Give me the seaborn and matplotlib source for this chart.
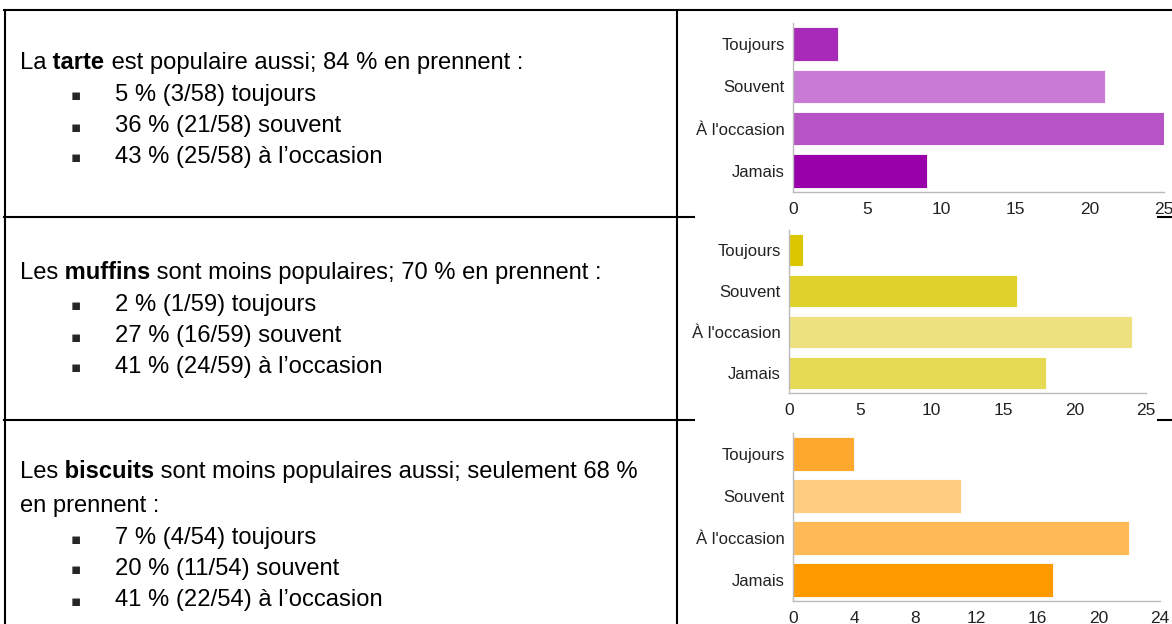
import matplotlib
matplotlib.use('Agg')
import matplotlib.pyplot as plt
from matplotlib import font_manager as fm
import seaborn as sns
import pandas as pd

sns.set_theme(style='white')
plt.rcParams['font.family'] = ['Liberation Sans', 'DejaVu Sans']

# Data
categories = ['Toujours', 'Souvent', "À l'occasion", 'Jamais']
tarte_counts = [3, 21, 25, 9]
muffins_counts = [1, 16, 24, 18]
biscuits_counts = [4, 11, 22, 17]

tarte_colors = ['#A82AB9', '#C97AD6', '#B654C6', '#9900AA']
muffins_colors = ['#DCC600', '#E0D22A', '#EEE280', '#E6DA55']
biscuits_colors = ['#FFA82E', '#FFCC80', '#FFB955', '#FF9900']

tarte_ticks = [0, 5, 10, 15, 20, 25]
muffins_ticks = [0, 5, 10, 15, 20, 25]
biscuits_ticks = [0, 4, 8, 12, 16, 20, 24]

# Text of the left column: header pieces (text, bold) and bullet items
tarte_head = [[('La', False), (' tarte', True), (' est populaire aussi; 84 % en prennent :', False)]]
tarte_items = ['5 % (3/58) toujours', '36 % (21/58) souvent', '43 % (25/58) à l’occasion']
muffins_head = [[('Les', False), (' muffins', True), (' sont moins populaires; 70 % en prennent :', False)]]
muffins_items = ['2 % (1/59) toujours', '27 % (16/59) souvent', '41 % (24/59) à l’occasion']
biscuits_head = [[('Les', False), (' biscuits', True), (' sont moins populaires aussi; seulement 68 %', False)],
                 [('en prennent :', False)]]
biscuits_items = ['7 % (4/54) toujours', '20 % (11/54) souvent', '41 % (22/54) à l’occasion']

W, H = 1172, 624

# the document uses a narrow sans; take one if it is installed
installed = {f.name for f in fm.fontManager.ttflist}
body_font = [f for f in ['Liberation Sans Narrow', 'Arial Narrow', 'DejaVu Sans Condensed']
             if f in installed] + ['Liberation Sans', 'DejaVu Sans']

fig = plt.figure(figsize=(W / 100, H / 100), dpi=100)
bg = fig.add_axes([0, 0, 1, 1])
bg.set_xlim(0, W)
bg.set_ylim(H, 0)
bg.axis('off')

# fit the body size so the first header line is as wide as in the document
renderer = fig.canvas.get_renderer()
probe = bg.text(0, 0, 'La tarte est populaire aussi; 84 % en prennent :', fontsize=10, family=body_font)
body_size = 10 * 500 / probe.get_window_extent(renderer).width
probe.remove()

# table borders
segs = [((4, W), (10, 10)), ((5, 5), (10, H)), ((677, 677), (10, H)),
        ((4, 694), (217, 217)), ((1158, W), (217, 217)),
        ((4, 694), (420, 420)), ((1158, W), (420, 420))]
for xs, ys in segs:
    bg.plot(xs, ys, color='black', lw=1.5, solid_capstyle='projecting')


def rich_line(x, y, pieces):
    prev = None
    for s, bold in pieces:
        kw = dict(fontsize=body_size, family=body_font, color='black',
                  fontweight='bold' if bold else 'normal')
        if prev is None:
            prev = bg.text(x, y, s, ha='left', va='center', **kw)
        else:
            prev = bg.annotate(s, xy=(1, 0), xycoords=prev, ha='left', va='bottom', **kw)


def text_block(y0, head, items, step=31):
    y = y0
    for line in head:
        rich_line(20, y, line)
        y += step + 3
    y -= 2
    for it in items:
        bg.text(76, y + 1, '▪', family='DejaVu Sans', fontsize=11, ha='center', va='center')
        rich_line(115, y, [(it, False)])
        y += step


text_block(63, tarte_head, tarte_items)
text_block(273, muffins_head, muffins_items)
text_block(472, biscuits_head, biscuits_items)


def bar_panel(l, t, r, b, counts, colors, ticks):
    ax = fig.add_axes([l / W, 1 - b / H, (r - l) / W, (b - t) / H])
    df = pd.DataFrame({'reponse': categories, 'n': counts})
    sns.barplot(data=df, x='n', y='reponse', hue='reponse', palette=colors,
                legend=False, width=0.79, saturation=1, orient='h', ax=ax,
                edgecolor='white', linewidth=0.6)
    ax.set_xlim(0, ticks[-1])
    ax.set_ylim(3.5, -0.5)
    ax.set_xticks(ticks)
    ax.set_xlabel('')
    ax.set_ylabel('')
    ax.patch.set_alpha(0)
    for side in ['top', 'right']:
        ax.spines[side].set_visible(False)
    for side in ['left', 'bottom']:
        ax.spines[side].set_color('#BBBBBB')
        ax.spines[side].set_linewidth(1)
    ax.tick_params(axis='both', length=4, width=0.8, color='#BBBBBB',
                   labelcolor='#222222', labelsize=12, pad=2)
    ax.tick_params(axis='x', pad=3, labelsize=12.5)
    for lab in ax.get_xticklabels() + ax.get_yticklabels():
        lab.set_clip_on(False)
    return ax


bar_panel(793, 23, 1164, 192, tarte_counts, tarte_colors, tarte_ticks)
bar_panel(789, 230, 1146, 393, muffins_counts, muffins_colors, muffins_ticks)
bar_panel(793, 433, 1160, 601, biscuits_counts, biscuits_colors, biscuits_ticks)

fig.savefig('out.png', dpi=100)
